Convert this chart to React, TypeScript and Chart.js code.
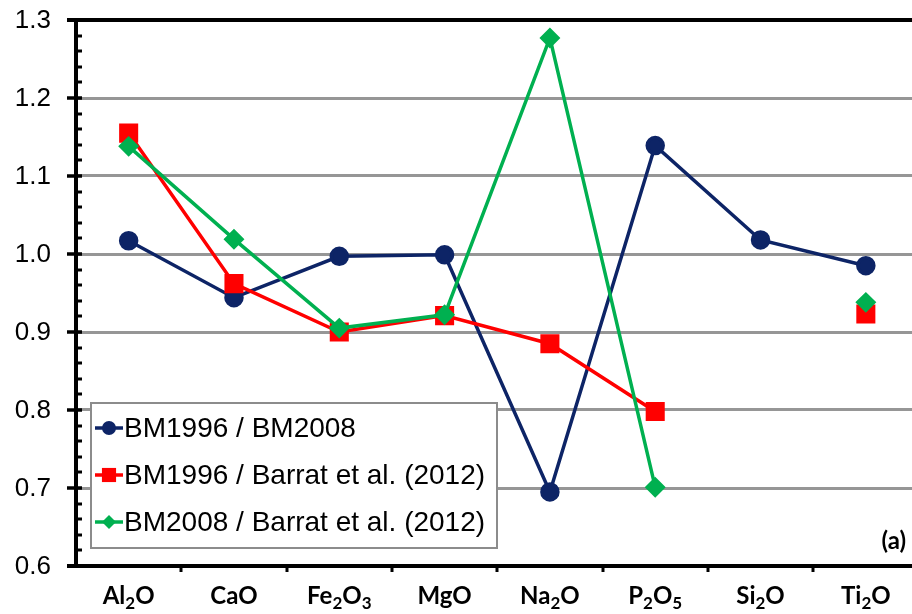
import React, { useEffect, useRef } from "react";
import { Chart, registerables } from "chart.js";

Chart.register(...registerables);

const categories = ["Al₂O", "CaO", "Fe₂O₃", "MgO", "Na₂O", "P₂O₅", "Si₂O", "Ti₂O"];
const seriesLabels = [
  "BM1996 / BM2008",
  "BM1996 / Barrat et al. (2012)",
  "BM2008 / Barrat et al. (2012)",
];
const bm1996_bm2008 = [1.017, 0.944, 0.997, 0.999, 0.695, 1.139, 1.018, 0.985];
const bm1996_barrat = [1.155, 0.962, 0.9, 0.921, 0.885, 0.798, null, 0.923];
const bm2008_barrat = [1.138, 1.019, 0.905, 0.922, 1.277, 0.701, null, 0.938];
const yTicks = [0.6, 0.7, 0.8, 0.9, 1.0, 1.1, 1.2, 1.3];
const panelLabel = "(a)";

const NAVY = "#0d2466";
const RED = "#ff0000";
const GREEN = "#00b050";

const SUBS: Record<string, string> = { "₀": "0", "₁": "1", "₂": "2", "₃": "3", "₄": "4", "₅": "5" };

function marker(ctx: CanvasRenderingContext2D, style: string, x: number, y: number, r: number, color: string) {
  ctx.save();
  ctx.fillStyle = color;
  ctx.beginPath();
  if (style === "circle") {
    ctx.arc(x, y, r, 0, Math.PI * 2);
  } else if (style === "rect") {
    const h = r * Math.SQRT1_2;
    ctx.rect(x - h, y - h, 2 * h, 2 * h);
  } else {
    ctx.moveTo(x - r, y);
    ctx.lineTo(x, y - r);
    ctx.lineTo(x + r, y);
    ctx.lineTo(x, y + r);
    ctx.closePath();
  }
  ctx.fill();
  ctx.restore();
}

const decorPlugin = {
  id: "decor",
  beforeDatasetsDraw(chart: any) {
    const ctx: CanvasRenderingContext2D = chart.ctx;
    const ys = chart.scales.y;
    const xs = chart.scales.x;
    const { left, right, top, bottom } = chart.chartArea;
    ctx.save();
    ctx.strokeStyle = "#000";
    ctx.lineCap = "butt";
    // minor ticks
    ctx.lineWidth = 3;
    for (let k = 0; k <= 35; k++) {
      if (k % 5 === 0) continue;
      const v = 0.6 + k * 0.02;
      const py = Math.round(ys.getPixelForValue(v));
      ctx.beginPath();
      ctx.moveTo(left, py);
      ctx.lineTo(left + 6, py);
      ctx.stroke();
    }
    // major ticks + y labels
    ctx.lineWidth = 3.5;
    ctx.fillStyle = "#000";
    ctx.font = "26px 'Liberation Sans'";
    ctx.textAlign = "right";
    ctx.textBaseline = "middle";
    for (const v of yTicks) {
      const py = Math.round(ys.getPixelForValue(v));
      ctx.beginPath();
      ctx.moveTo(left - 9, py);
      ctx.lineTo(left + 6, py);
      ctx.stroke();
      ctx.fillText(v.toFixed(1), left - 25, py + 1);
    }
    // top border & bottom axis
    ctx.lineWidth = 4;
    ctx.beginPath();
    ctx.moveTo(left - 9, top);
    ctx.lineTo(right + 10, top);
    ctx.moveTo(left - 9, bottom);
    ctx.lineTo(right + 10, bottom);
    ctx.stroke();
    // left axis
    ctx.beginPath();
    ctx.moveTo(left, top - 2);
    ctx.lineTo(left, bottom + 2);
    ctx.stroke();
    // x boundary ticks
    ctx.lineWidth = 3;
    const step = xs.getPixelForValue(1) - xs.getPixelForValue(0);
    for (let i = 1; i <= categories.length; i++) {
      const px = Math.round(xs.getPixelForValue(i) - step / 2);
      ctx.beginPath();
      ctx.moveTo(px, bottom);
      ctx.lineTo(px, bottom + 6);
      ctx.stroke();
    }
    // x labels with subscripts
    ctx.textAlign = "left";
    ctx.textBaseline = "alphabetic";
    const mainFont = "bold 24px Lato";
    const subFont = "bold 17px Lato";
    categories.forEach((lab, i) => {
      const parts: { t: string; sub: boolean }[] = [];
      for (const ch of lab) {
        const sub = ch in SUBS;
        const t = sub ? SUBS[ch] : ch;
        const last = parts[parts.length - 1];
        if (last && last.sub === sub) last.t += t;
        else parts.push({ t, sub });
      }
      let w = 0;
      for (const p of parts) {
        ctx.font = p.sub ? subFont : mainFont;
        w += ctx.measureText(p.t).width;
      }
      let x = xs.getPixelForValue(i) - w / 2;
      const base = 604;
      for (const p of parts) {
        ctx.font = p.sub ? subFont : mainFont;
        ctx.fillText(p.t, x, p.sub ? base + 5 : base);
        x += ctx.measureText(p.t).width;
      }
    });
    ctx.restore();
  },
  afterDatasetsDraw(chart: any) {
    const ctx: CanvasRenderingContext2D = chart.ctx;
    ctx.save();
    // legend box
    const bx = 91, by = 403, bw = 406, bh = 145;
    ctx.fillStyle = "#fff";
    ctx.fillRect(bx, by, bw, bh);
    ctx.strokeStyle = "#8c8c8c";
    ctx.lineWidth = 2;
    ctx.strokeRect(bx, by, bw, bh);
    const rows = [428, 475, 522];
    const styles = ["circle", "rect", "rectRot"];
    const sizes = [7, 10, 7];
    chart.data.datasets.forEach((ds: any, i: number) => {
      const y = rows[i];
      ctx.strokeStyle = ds.borderColor;
      ctx.lineWidth = 3.5;
      ctx.beginPath();
      ctx.moveTo(95, y);
      ctx.lineTo(123, y);
      ctx.stroke();
      marker(ctx, styles[i], 109, y, sizes[i], ds.borderColor);
      ctx.fillStyle = "#000";
      ctx.font = "28px 'Liberation Sans'";
      ctx.textBaseline = "middle";
      ctx.textAlign = "left";
      ctx.fillText(ds.label, 124, y + 1);
    });
    // panel label
    ctx.font = "bold 24px Lato";
    ctx.textAlign = "right";
    ctx.textBaseline = "middle";
    ctx.fillStyle = "#000";
    ctx.fillText(panelLabel, 906, 541);
    ctx.restore();
  },
};

export default function App() {
  const ref = useRef<HTMLCanvasElement | null>(null);
  useEffect(() => {
    if (!ref.current) return;
    const chart = new Chart(ref.current, {
      type: "line",
      data: {
        labels: categories,
        datasets: [
          {
            label: seriesLabels[0],
            data: bm1996_bm2008,
            borderColor: NAVY,
            backgroundColor: NAVY,
            pointBackgroundColor: NAVY,
            pointBorderColor: NAVY,
            pointStyle: "circle",
            pointRadius: 8,
            borderWidth: 3.5,
            order: 2,
          },
          {
            label: seriesLabels[1],
            data: bm1996_barrat,
            borderColor: RED,
            backgroundColor: RED,
            pointBackgroundColor: RED,
            pointBorderColor: RED,
            pointStyle: "rect",
            pointRadius: 11,
            borderWidth: 3.5,
            order: 1,
          },
          {
            label: seriesLabels[2],
            data: bm2008_barrat,
            borderColor: GREEN,
            backgroundColor: GREEN,
            pointBackgroundColor: GREEN,
            pointBorderColor: GREEN,
            pointStyle: "rectRot",
            pointRadius: 8,
            borderWidth: 3.5,
            order: 0,
          },
        ],
      },
      options: {
        responsive: false,
        animation: false,
        devicePixelRatio: 1,
        spanGaps: false,
        layout: { autoPadding: false, padding: { top: 20, right: 1.5, left: 0, bottom: 0 } },
        plugins: { legend: { display: false }, tooltip: { enabled: false } },
        scales: {
          x: {
            type: "category",
            offset: true,
            grid: { display: false, drawTicks: false },
            border: { display: false },
            ticks: { display: false },
            afterFit: (s: any) => {
              s.height = 48;
            },
          },
          y: {
            min: 0.6,
            max: 1.3,
            afterBuildTicks: (s: any) => {
              s.ticks = yTicks.map((v) => ({ value: v }));
            },
            grid: {
              drawTicks: false,
              lineWidth: 3,
              color: (c: any) => {
                const v = c.tick ? c.tick.value : 0;
                if (Math.abs(v - 1.3) < 1e-6 || Math.abs(v - 0.6) < 1e-6) return "rgba(0,0,0,0)";
                return "#969696";
              },
            },
            border: { display: false },
            ticks: { display: false },
            afterFit: (s: any) => {
              s.width = 76;
            },
          },
        },
      },
      plugins: [decorPlugin],
    });
    return () => chart.destroy();
  }, []);
  return (
    <div
      style={{
        position: "fixed",
        left: 0,
        top: 0,
        width: 912,
        height: 614,
        overflow: "hidden",
        background: "#fff",
      }}
    >
      <canvas ref={ref} width={920} height={614} style={{ display: "block", width: 920, height: 614 }} />
    </div>
  );
}
